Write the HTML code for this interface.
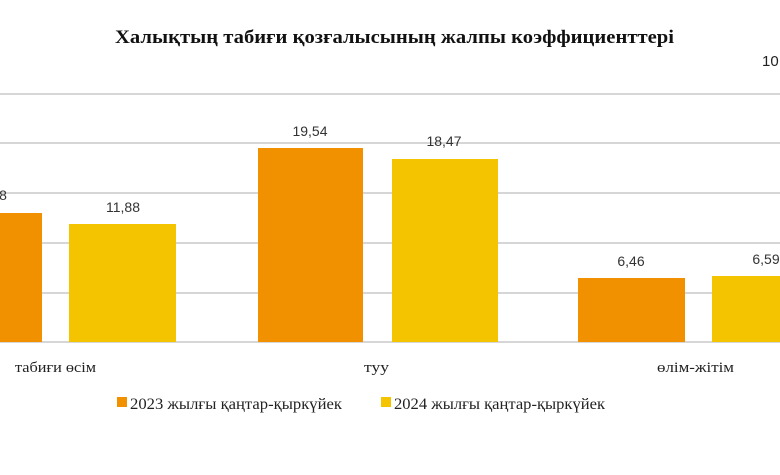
<!DOCTYPE html>
<html><head><meta charset="utf-8"><style>
body{margin:0;background:#fff;width:780px;height:470px;overflow:hidden}
</style></head><body>
<svg width="780" height="470" xmlns="http://www.w3.org/2000/svg">
<rect width="780" height="470" fill="#fff"/>
<text x="115" y="43" textLength="559" lengthAdjust="spacingAndGlyphs" font-family="Liberation Serif, serif" font-weight="bold" font-size="19" fill="#111">Халықтың табиғи қозғалысының жалпы коэффициенттері</text>
<text x="762" y="66" font-family="Liberation Sans, sans-serif" font-size="15" fill="#222">10</text>
<g stroke="#bdbdbd" stroke-width="1.2">
<line x1="0" y1="94" x2="780" y2="94"/>
<line x1="0" y1="143" x2="780" y2="143"/>
<line x1="0" y1="193" x2="780" y2="193"/>
<line x1="0" y1="243" x2="780" y2="243"/>
<line x1="0" y1="293" x2="780" y2="293"/>
<line x1="0" y1="342" x2="780" y2="342"/>
</g>
<g>
<rect x="0" y="213" width="42" height="129" fill="#f29100"/>
<rect x="69" y="224" width="107" height="118" fill="#f5c400"/>
<rect x="258" y="148" width="105" height="194" fill="#f29100"/>
<rect x="392" y="159" width="106" height="183" fill="#f5c400"/>
<rect x="578" y="278" width="107" height="64" fill="#f29100"/>
<rect x="712" y="276" width="68" height="66" fill="#f5c400"/>
</g>
<g font-family="Liberation Sans, sans-serif" font-size="14" fill="#333" text-anchor="middle">
<text x="3" y="200">8</text>
<text x="123" y="212">11,88</text>
<text x="310" y="136">19,54</text>
<text x="444" y="146">18,47</text>
<text x="631" y="266">6,46</text>
<text x="766" y="264">6,59</text>
</g>
<g font-family="Liberation Serif, serif" font-size="15" fill="#222">
<text x="15" y="372" textLength="81" lengthAdjust="spacingAndGlyphs">табиғи өсім</text>
<text x="364" y="372" textLength="25" lengthAdjust="spacingAndGlyphs">туу</text>
<text x="657" y="372" textLength="77" lengthAdjust="spacingAndGlyphs">өлім-жітім</text>
</g>
<rect x="117" y="397" width="10" height="10" fill="#f29100"/>
<text x="130" y="409" textLength="212" lengthAdjust="spacingAndGlyphs" font-family="Liberation Serif, serif" font-size="16" fill="#222">2023 жылғы қаңтар-қыркүйек</text>
<rect x="381" y="397" width="10" height="10" fill="#f5c400"/>
<text x="394" y="409" textLength="211" lengthAdjust="spacingAndGlyphs" font-family="Liberation Serif, serif" font-size="16" fill="#222">2024 жылғы қаңтар-қыркүйек</text>
</svg>
</body></html>
